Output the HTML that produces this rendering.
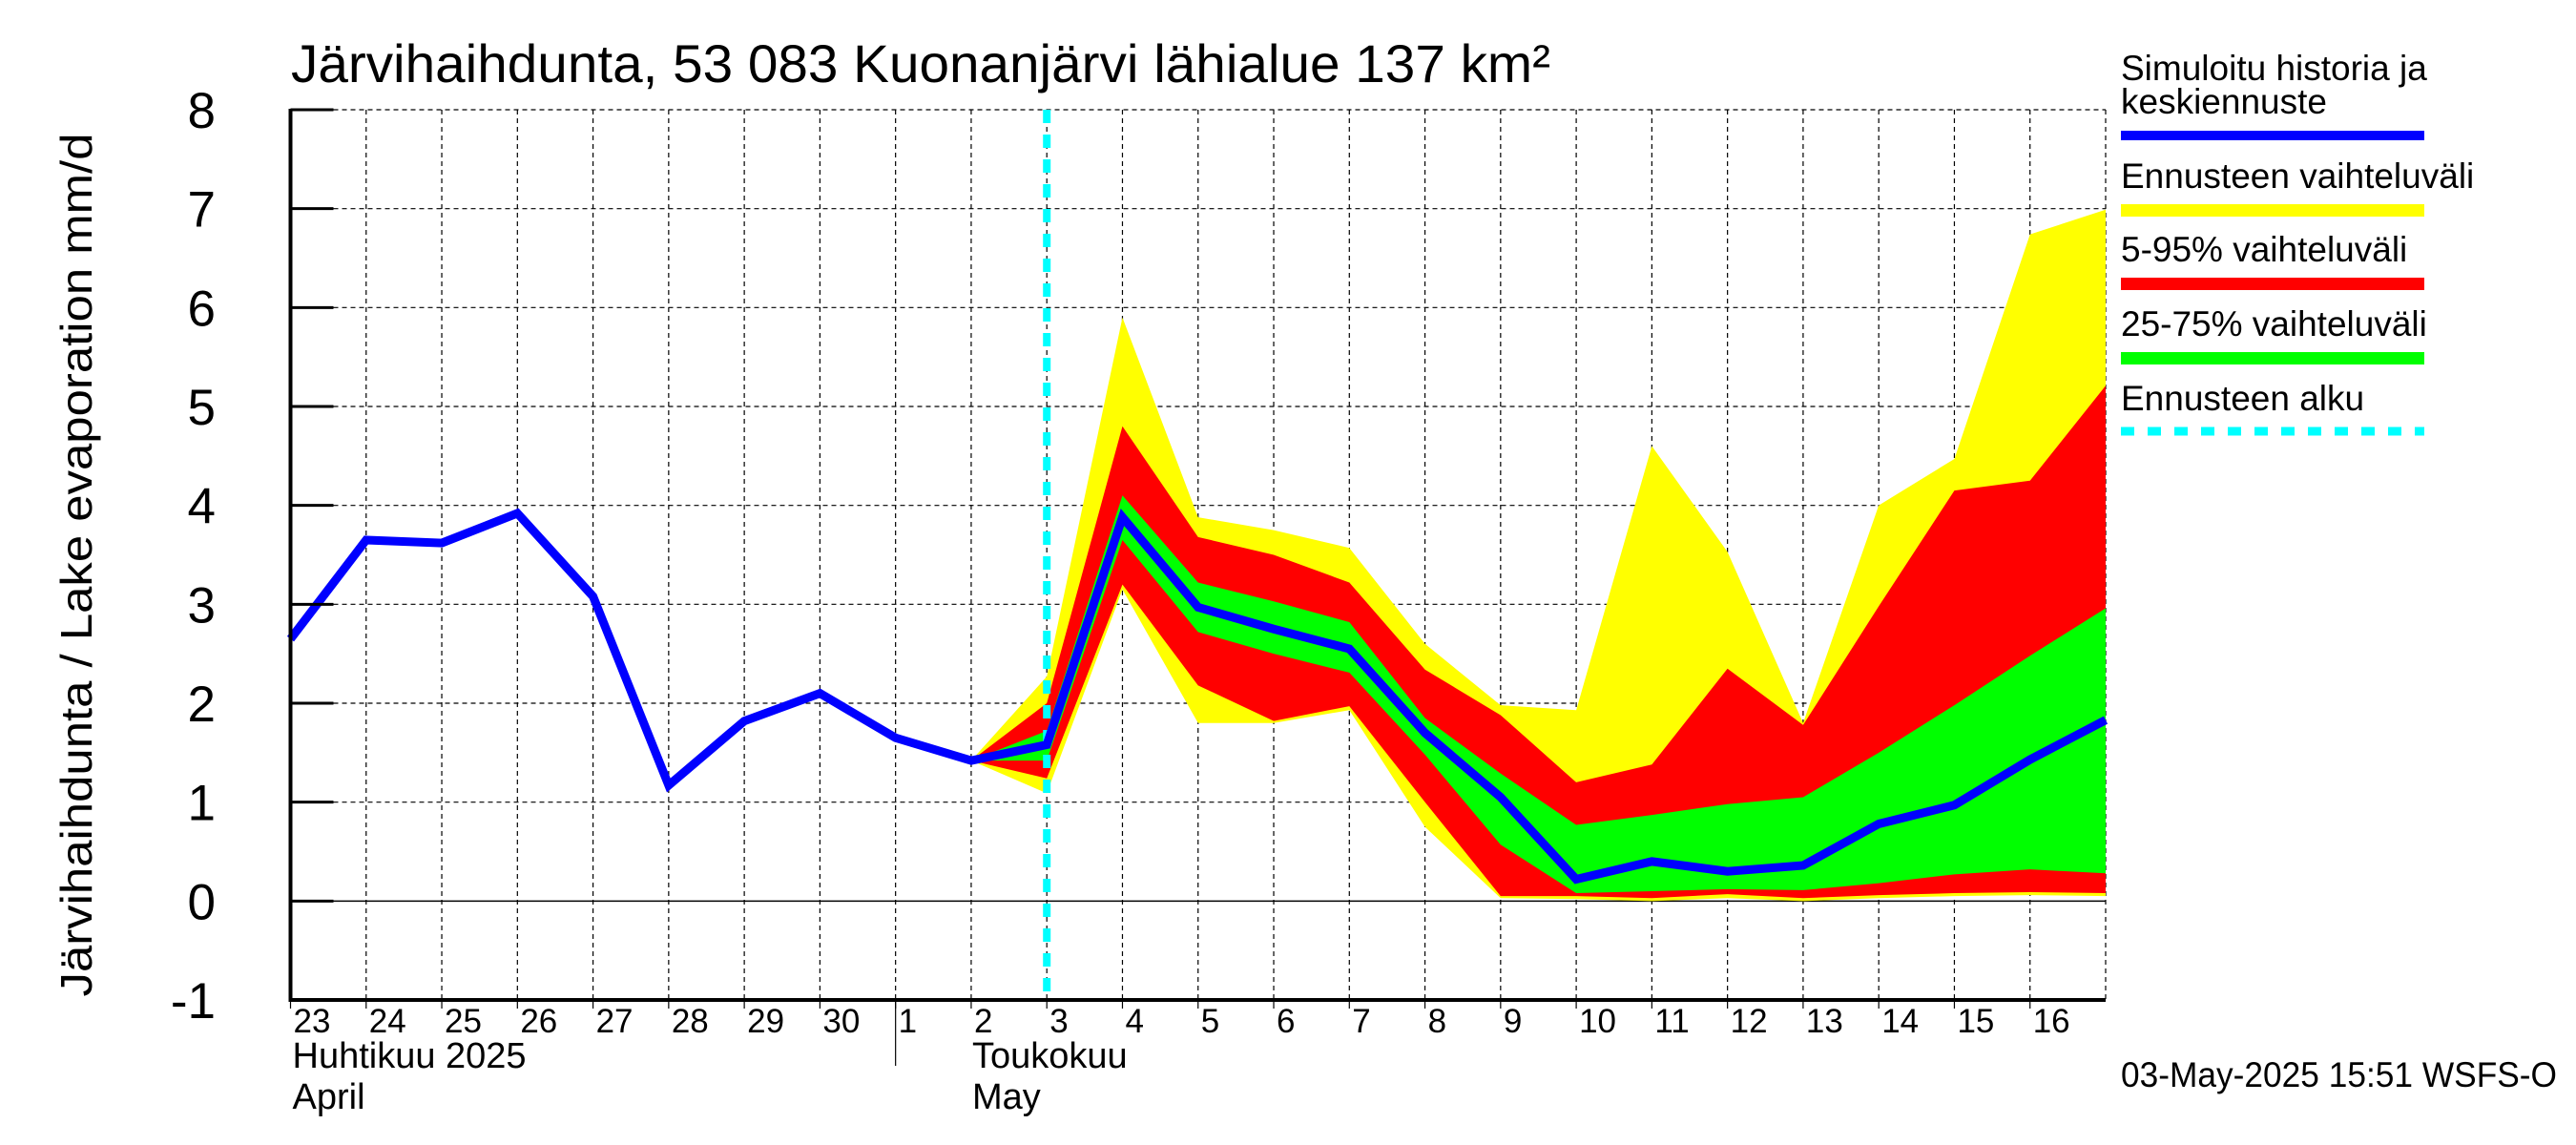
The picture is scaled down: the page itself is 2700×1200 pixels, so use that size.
<!DOCTYPE html>
<html><head><meta charset="utf-8"><style>
html,body{margin:0;padding:0;background:#fff;}
svg{display:block;font-family:"Liberation Sans",sans-serif;}
</style></head><body>
<svg id="chart" width="2700" height="1200" viewBox="0 0 2700 1200" xmlns="http://www.w3.org/2000/svg">
<text x="305" y="86" font-size="56" textLength="1320" lengthAdjust="spacingAndGlyphs">Järvihaihdunta, 53 083 Kuonanjärvi lähialue 137 km²</text>
<text transform="translate(96,592) rotate(-90)" text-anchor="middle" font-size="46" textLength="905" lengthAdjust="spacingAndGlyphs">Järvihaihdunta / Lake evaporation   mm/d</text>
<g id="grid"></g>
<g id="bands"></g>
<g id="axes"></g>
<g id="legend">
<text x="2223" y="84" font-size="37">Simuloitu historia ja</text>
<text x="2223" y="119" font-size="37">keskiennuste</text>
<rect x="2223" y="137" width="318" height="10" fill="#0000ff"/>
<text x="2223" y="197" font-size="37">Ennusteen vaihteluväli</text>
<rect x="2223" y="214" width="318" height="13" fill="#ffff00"/>
<text x="2223" y="274" font-size="37">5-95% vaihteluväli</text>
<rect x="2223" y="291" width="318" height="13" fill="#ff0000"/>
<text x="2223" y="352" font-size="37">25-75% vaihteluväli</text>
<rect x="2223" y="369" width="318" height="13" fill="#00ff00"/>
<text x="2223" y="430" font-size="37">Ennusteen alku</text>
<line x1="2223" y1="452" x2="2541" y2="452" stroke="#00ffff" stroke-width="9" stroke-dasharray="14,14"/>
</g>
<text x="2223" y="1139" font-size="37" textLength="457" lengthAdjust="spacingAndGlyphs">03-May-2025 15:51 WSFS-O</text>
</svg>
<script>
const dayLabels = ["23","24","25","26","27","28","29","30","1","2","3","4","5","6","7","8","9","10","11","12","13","14","15","16"];
const yTicks = [-1,0,1,2,3,4,5,6,7,8];
const median = [2.65,3.65,3.62,3.92,3.08,1.17,1.82,2.1,1.65,1.42,1.58,3.88,2.97,2.75,2.55,1.7,1.05,0.22,0.4,0.3,0.36,0.78,0.97,1.43,1.83];
const bandStart = 9;
const yellowHi = [1.42,2.27,5.9,3.88,3.75,3.57,2.6,1.98,1.93,4.6,3.53,1.8,4.0,4.47,6.74,6.99];
const yellowLo = [1.42,1.09,3.15,1.8,1.8,1.93,0.75,0.03,0.02,0.0,0.03,0.0,0.03,0.05,0.06,0.05];
const redHi = [1.42,2.0,4.8,3.68,3.5,3.22,2.34,1.88,1.2,1.38,2.35,1.78,2.98,4.15,4.25,5.21];
const redLo = [1.42,1.24,3.2,2.18,1.82,1.97,1.0,0.05,0.05,0.03,0.07,0.03,0.06,0.08,0.09,0.08];
const greenHi = [1.42,1.72,4.1,3.22,3.03,2.82,1.85,1.29,0.77,0.87,0.98,1.05,1.5,1.98,2.48,2.96];
const greenLo = [1.42,1.42,3.65,2.72,2.5,2.31,1.48,0.57,0.08,0.1,0.12,0.11,0.18,0.27,0.32,0.28];
const forecastStart = 10;

const X0=304.5, X1=2207, Y8=115, Ym1=1048, NDAYS=24;
const xs = i => X0 + i*(X1-X0)/NDAYS;
const ys = v => Ym1 - (v+1)*(Ym1-Y8)/9;
const NS="http://www.w3.org/2000/svg";
function mk(tag, attrs, parent){const e=document.createElementNS(NS,tag);for(const k in attrs)e.setAttribute(k,attrs[k]);parent.appendChild(e);return e;}
const grid=document.getElementById('grid'), bands=document.getElementById('bands'), axes=document.getElementById('axes');

yTicks.forEach(v=>{
  if(v===-1) return;
  const l=mk('line',{x1:X0,x2:X1,y1:ys(v),y2:ys(v),stroke:'#000','stroke-width':v===0?1.5:1.2,'stroke-dasharray':v===0?'none':'5,4'},grid);
  
  
});
for(let i=1;i<=NDAYS;i++){
  const l=mk('line',{x1:xs(i),x2:xs(i),y1:Y8,y2:Ym1,stroke:'#000','stroke-width':1.2,'stroke-dasharray':'5,4'},grid);
  
  
}

function band(hi,lo,color,name){
  let pts=[];
  hi.forEach((v,k)=>pts.push(xs(bandStart+k)+','+ys(v)));
  for(let k=lo.length-1;k>=0;k--) pts.push(xs(bandStart+k)+','+ys(lo[k]));
  const p=mk('polygon',{points:pts.join(' '),fill:color},bands);
  
  
}
band(yellowHi,yellowLo,'#ffff00','band-full-range');
band(redHi,redLo,'#ff0000','band-5-95');
band(greenHi,greenLo,'#00ff00','band-25-75');

const cy=mk('line',{x1:xs(forecastStart),x2:xs(forecastStart),y1:Y8,y2:Ym1,stroke:'#00ffff','stroke-width':8,'stroke-dasharray':'14,12'},bands);



const ml=mk('polyline',{points:median.map((v,i)=>xs(i)+','+ys(v)).join(' '),fill:'none',stroke:'#0000ff','stroke-width':9,'stroke-linejoin':'miter'},bands);



// axes
const la=mk('line',{x1:X0,x2:X0,y1:Y8-1,y2:Ym1+2,stroke:'#000','stroke-width':4},axes);


const ba=mk('line',{x1:X0-2,x2:X1,y1:Ym1,y2:Ym1,stroke:'#000','stroke-width':4},axes);


yTicks.forEach(v=>{
  const t=mk('line',{x1:X0,x2:X0+45,y1:ys(v),y2:ys(v),stroke:'#000','stroke-width':3},axes);
  
  
  const tx=mk('text',{x:226,y:ys(v)+19,'text-anchor':'end','font-size':53},axes);
  tx.textContent=String(v);
  
  
});
dayLabels.forEach((d,i)=>{
  const t=mk('line',{x1:xs(i),x2:xs(i),y1:Ym1,y2:Ym1+9,stroke:'#000','stroke-width':1.2},axes);
  
  
  const tx=mk('text',{x:xs(i)+3,y:1082,'font-size':35},axes);
  tx.textContent=d;
  
  
});
const sep=mk('line',{x1:xs(8),x2:xs(8),y1:Ym1,y2:1117,stroke:'#000','stroke-width':1.2},axes);


[[xs(0)+2,1119,'Huhtikuu  2025','month-april-fi'],[xs(0)+2,1162,'April','month-april-en'],[xs(9)+1,1119,'Toukokuu','month-may-fi'],[xs(9)+1,1162,'May','month-may-en']].forEach(m=>{
  const tx=mk('text',{x:m[0],y:m[1],'font-size':38},axes);
  tx.textContent=m[2];
  
  
});
</script>
</body></html>
